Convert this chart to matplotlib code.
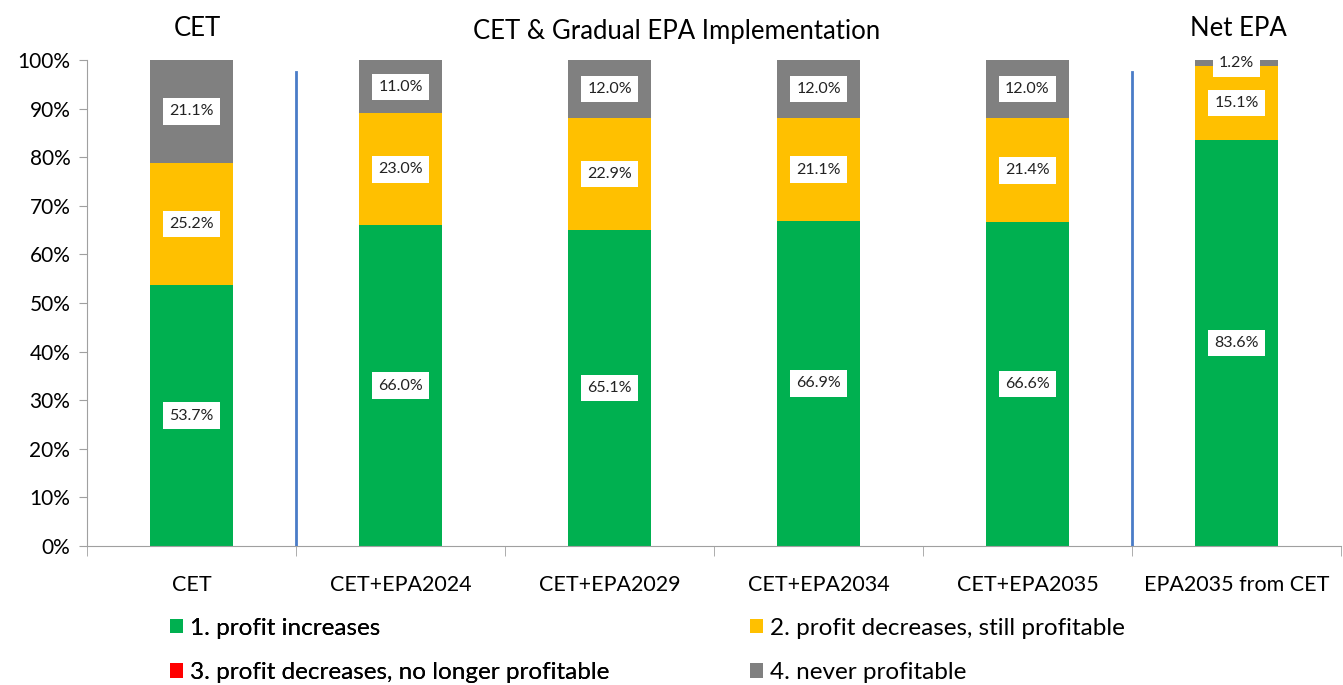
import matplotlib.pyplot as plt
import numpy as np
from matplotlib.patches import Patch

categories = ["CET", "CET+EPA2024", "CET+EPA2029", "CET+EPA2034", "CET+EPA2035", "EPA2035 from CET"]
increases = [53.7, 66.0, 65.1, 66.9, 66.6, 83.6]
still_profitable = [25.2, 23.0, 22.9, 21.1, 21.4, 15.1]
no_longer = [0, 0, 0, 0, 0, 0]
never = [21.1, 11.0, 12.0, 12.0, 12.0, 1.2]
series_names = ["1. profit increases", "2. profit decreases, still profitable",
                "3. profit decreases, no longer profitable", "4. never profitable"]
colors = ["#00B050", "#FFC000", "#FF0000", "#808080"]
group_titles = ["CET", "CET & Gradual EPA Implementation", "Net EPA"]
divider_pos = [0.5, 4.5]
divider_top = 97.5

plt.rcParams['font.family'] = ['Lato', 'DejaVu Sans']

fig = plt.figure(figsize=(13.43, 6.85), dpi=100)
ax = fig.add_axes([0.0648, 0.2029, 0.9337, 0.7095])

x = np.arange(len(categories))
series = [increases, still_profitable, no_longer, never]
bottom = np.zeros(len(categories))
for vals, col in zip(series, colors):
    vals = np.array(vals, dtype=float)
    ax.bar(x, vals, 0.4, bottom=bottom, color=col, zorder=2)
    for xi, b, v in zip(x, bottom, vals):
        if v > 0:
            ax.text(xi, b + v / 2, f"{v:.1f}%", ha="center", va="center", fontsize=11.5,
                    color="#222222", zorder=4,
                    bbox=dict(facecolor="white", edgecolor="none", pad=4.5))
    bottom += vals

for d in divider_pos:
    ax.plot([d, d], [0, divider_top], color="#4A7CC7", lw=2, zorder=3)

ax.set_xlim(-0.5, len(categories) - 0.5)
ax.set_ylim(0, 100)
ax.set_yticks(np.arange(0, 101, 10))
ax.set_yticklabels([f"{v}%" for v in range(0, 101, 10)], fontsize=15)
ax.set_xticks(x)
ax.set_xticklabels(categories, fontsize=15.5)
ax.set_xticks(np.arange(-0.5, len(categories), 1), minor=True)
ax.tick_params(axis="x", which="major", length=0, pad=21)
ax.tick_params(axis="x", which="minor", length=7, color="#A0A0A0", direction="out")
ax.tick_params(axis="y", length=6, color="#A0A0A0", direction="out", pad=6)
for s in ["top", "right"]:
    ax.spines[s].set_visible(False)
ax.spines["left"].set_color("#A0A0A0")
ax.spines["bottom"].set_color("#A0A0A0")

fig.text(197 / 1343, 1 - 28 / 685, group_titles[0], ha="center", va="center", fontsize=18.5)
fig.text(677 / 1343, 1 - 31 / 685, group_titles[1], ha="center", va="center", fontsize=18.5)
fig.text(1238 / 1343, 1 - 28 / 685, group_titles[2], ha="center", va="center", fontsize=18.5)

handles = [Patch(facecolor=c, edgecolor="none") for c in colors]
leg_kw = dict(loc="upper left", frameon=False, fontsize=17.5, handlelength=0.55,
              handleheight=0.55, handletextpad=0.3, labelspacing=0.95, borderaxespad=0)
leg1 = fig.legend([handles[0], handles[2]], [series_names[0], series_names[2]],
                  bbox_to_anchor=(160 / 1343, 1 - 608 / 685), **leg_kw)
fig.add_artist(leg1)
fig.legend([handles[1], handles[3]], [series_names[1], series_names[3]],
           bbox_to_anchor=(740 / 1343, 1 - 608 / 685), **leg_kw)

fig.savefig("out.png", dpi=100)
